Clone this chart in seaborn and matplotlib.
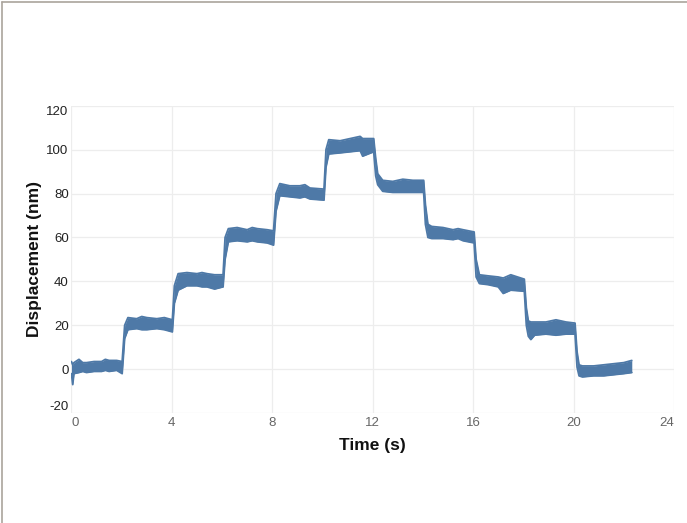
import matplotlib
matplotlib.use("Agg")
import matplotlib.pyplot as plt
import seaborn as sns
import pandas as pd
from matplotlib.lines import Line2D

# Trace envelope: time (s), upper and lower edge (nm)
time_s = [0.0, 0.05, 0.1, 0.3, 0.45, 0.6, 0.9, 1.2, 1.35, 1.5, 1.8, 2.02,
          2.12, 2.25, 2.6, 2.8, 3.0, 3.4, 3.7, 4.02,
          4.1, 4.25, 4.6, 5.0, 5.2, 5.4, 5.7, 6.04,
          6.12, 6.25, 6.6, 7.0, 7.2, 7.4, 7.8, 8.05,
          8.15, 8.3, 8.7, 9.1, 9.3, 9.5, 10.06,
          10.14, 10.25, 10.7, 11.1, 11.5, 11.6, 12.04,
          12.12, 12.2, 12.4, 12.8, 13.2, 13.6, 14.03,
          14.1, 14.2, 14.35, 14.8, 15.2, 15.4, 15.6, 16.04,
          16.12, 16.25, 16.6, 17.0, 17.2, 17.5, 18.04,
          18.12, 18.2, 18.3, 18.45, 18.9, 19.3, 19.7, 20.06,
          20.14, 20.22, 20.35, 20.8, 21.2, 21.6, 22.0, 22.32]
upper_nm = [3.5, 2.0, 3.0, 4.5, 3.0, 3.0, 3.5, 3.5, 4.5, 4.0, 4.0, 3.5,
            20.0, 23.5, 23.0, 24.0, 23.5, 23.0, 23.5, 22.5,
            38.0, 43.5, 44.0, 43.5, 44.0, 43.5, 43.0, 43.0,
            60.0, 64.0, 64.5, 63.5, 64.5, 64.0, 63.5, 63.0,
            80.0, 84.5, 83.5, 83.5, 84.0, 82.5, 82.0,
            100.0, 104.5, 104.0, 105.0, 106.0, 105.0, 105.0,
            96.0, 89.0, 86.0, 85.5, 86.5, 86.0, 86.0,
            75.0, 66.0, 65.0, 64.5, 63.5, 64.0, 63.5, 62.5,
            50.0, 43.0, 42.5, 42.0, 41.5, 43.0, 41.0,
            28.0, 22.0, 21.5, 21.5, 21.5, 22.5, 21.5, 21.0,
            8.0, 2.0, 1.5, 1.5, 2.0, 2.5, 3.0, 4.0]
lower_nm = [-2.0, -7.0, -2.0, -1.5, -1.0, -1.5, -1.0, -1.0, -0.5, -1.0, -0.5, -2.0,
            14.0, 18.0, 18.5, 18.0, 18.0, 18.5, 18.0, 17.0,
            30.0, 36.0, 38.0, 38.0, 37.5, 37.5, 36.5, 37.5,
            50.0, 58.0, 58.5, 58.0, 58.5, 58.0, 57.5, 56.5,
            72.0, 79.0, 78.5, 78.0, 78.5, 77.5, 77.0,
            92.0, 98.0, 98.5, 99.0, 99.5, 97.0, 99.0,
            88.0, 84.0, 81.0, 80.5, 80.5, 80.5, 80.5,
            66.0, 60.0, 59.5, 59.5, 59.0, 59.5, 58.5, 57.5,
            42.0, 39.0, 38.5, 37.5, 34.5, 36.0, 35.5,
            20.0, 15.0, 13.5, 15.5, 16.0, 15.5, 16.0, 16.0,
            1.0, -3.0, -3.5, -3.0, -3.0, -2.5, -2.0, -1.5]

x_ticks = [0, 4, 8, 12, 16, 20, 24]
y_ticks = [-20, 0, 20, 40, 60, 80, 100, 120]

sns.set_theme(style="whitegrid")
plt.rcParams['font.family'] = ['Liberation Sans', 'DejaVu Sans']
plt.rcParams['axes.unicode_minus'] = False

df = pd.DataFrame({'time': time_s, 'upper': upper_nm, 'lower': lower_nm})
color = '#4e79a7'

fig = plt.figure(figsize=(6.87, 5.23), dpi=100)
ax = fig.add_axes([0.104, 0.21, 0.877, 0.588])

ax.fill_between(df['time'], df['lower'], df['upper'], color=color, linewidth=0)
sns.lineplot(data=df, x='time', y='upper', color=color, linewidth=1.3, ax=ax)
sns.lineplot(data=df, x='time', y='lower', color=color, linewidth=1.3, ax=ax)

ax.set_xlim(0, 24)
ax.set_ylim(-20, 120)
ax.set_xticks(x_ticks)
ax.set_yticks(y_ticks)
ax.set_facecolor('white')
ax.grid(True, color='#ededed', linewidth=0.9)
for s in ax.spines.values():
    s.set_visible(False)
ax.tick_params(axis='both', length=0, labelsize=9.5)
ax.tick_params(axis='x', colors='#666666', pad=3)
ax.tick_params(axis='y', colors='#222222', pad=2)

xl = ax.get_xticklabels()
xl[0].set_horizontalalignment('left')
xl[-1].set_horizontalalignment('right')
yl = ax.get_yticklabels()
yl[0].set_verticalalignment('bottom')
yl[-1].set_verticalalignment('top')

ax.set_xlabel('Time (s)', fontsize=12.5, fontweight='bold', color='#111111', labelpad=6)
ax.set_ylabel('Displacement (nm)', fontsize=12.5, fontweight='bold', color='#111111', labelpad=3)

# thin frame at the top and left of the picture
fig.add_artist(Line2D([0.003, 0.003], [0, 0.996], transform=fig.transFigure, color='#aaa49c', linewidth=1.2))
fig.add_artist(Line2D([0.003, 1.0], [0.996, 0.996], transform=fig.transFigure, color='#aaa49c', linewidth=1.2))

fig.savefig('out.png', dpi=100)
